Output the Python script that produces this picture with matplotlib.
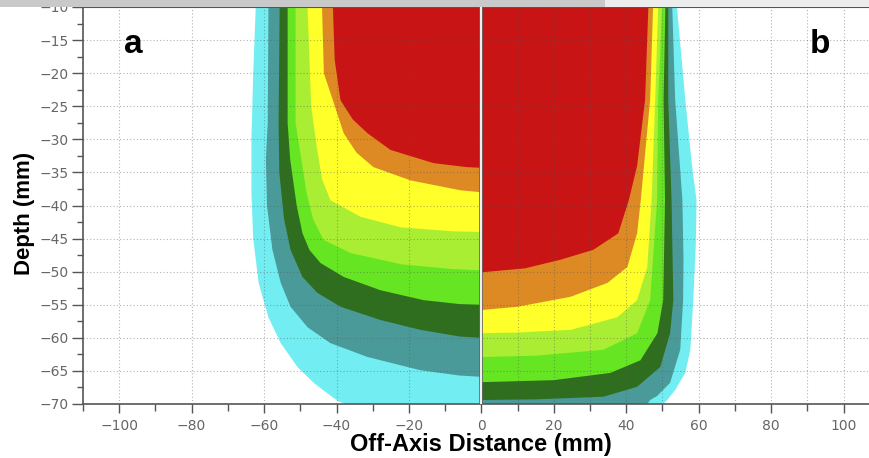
import matplotlib
matplotlib.use('Agg')
import matplotlib.pyplot as plt
from matplotlib.patches import Rectangle
from matplotlib.ticker import MultipleLocator

plt.rcParams['font.family'] = ['Liberation Sans', 'DejaVu Sans']

# isodose boundaries: (off-axis distance mm, depth mm)
# panel a (left half, x <= 0), outermost level first
a_cyan = [(-62.3, -10), (-63.0, -20), (-63.5, -30), (-63.5, -38), (-63.0, -45), (-61.5, -51.7),
          (-58.8, -56.9), (-55.4, -60.8), (-50.8, -64.4), (-46.3, -66.8), (-42.5, -68.4),
          (-39.5, -69.6), (-37.5, -70), (0, -70)]
a_teal = [(-58.8, -10), (-59.0, -27.5), (-59.5, -33), (-59.2, -40), (-57.7, -46.7), (-55.4, -51.7),
          (-52.7, -55.3), (-48.0, -58.4), (-41.7, -60.8), (-31.4, -62.9), (-16.8, -64.9),
          (-6.0, -65.7), (0, -65.9)]
a_dkgreen = [(-55.7, -10), (-56.0, -27.5), (-55.8, -35), (-54.5, -42), (-52.7, -46.7), (-49.4, -50.8),
             (-45.3, -53.2), (-38.9, -55.3), (-27.9, -57.3), (-16.8, -58.8), (-6.0, -59.8), (0, -60)]
a_green = [(-53.5, -10), (-53.5, -27.5), (-52.8, -33), (-51.0, -40), (-49.4, -44.2), (-47.5, -46.7),
           (-44.4, -48.7), (-38.0, -50.8), (-27.9, -52.8), (-16.0, -54.3), (-6.0, -54.9), (0, -55)]
a_lgreen = [(-51.3, -10), (-51.3, -27.5), (-50.0, -32), (-48.3, -38), (-46.5, -42), (-43.6, -45.2),
            (-36.0, -47.2), (-22.0, -48.9), (-8.0, -49.6), (0, -49.8)]
a_yellow = [(-48.0, -10), (-47.0, -25), (-45.5, -31), (-44.0, -36), (-41.7, -39.2), (-33.4, -41.7),
            (-22.3, -43.3), (-8.0, -43.9), (0, -44)]
a_orange = [(-44.0, -10), (-43.5, -20), (-41.0, -24.1), (-38.0, -29.1), (-34.5, -32), (-29.8, -34.2),
            (-19.6, -36.2), (-5.8, -37.7), (0, -38)]
a_red = [(-41.0, -10), (-40.5, -18), (-38.9, -24.1), (-35.5, -27), (-31.4, -29.1), (-25.1, -31.6),
         (-13.2, -33.6), (-4.0, -34.2), (0, -34.3)]

# panel b (right half, x >= 0)
b_cyan = [(54.0, -10), (56.3, -24), (58.2, -34.2), (59.4, -39.2), (59.2, -46), (58.5, -54.3),
          (57.7, -61.8), (56.3, -65.3), (53.5, -67.9), (51.3, -69.4), (50.2, -70), (0, -70)]
b_teal = [(52.7, -10), (53.5, -24), (55.5, -39.2), (55.8, -48), (55.7, -54.3), (54.9, -61.8),
          (52.1, -66.8), (48.5, -68.8), (46.6, -69.4), (45.8, -70), (0, -70)]
b_dkgreen = [(51.6, -10), (51.6, -24), (52.5, -39.2), (53.0, -54.3), (52.1, -59.3), (49.4, -64.4),
             (43.0, -67.4), (33.7, -68.9), (15.0, -69.3), (0, -69.4)]
b_green = [(50.8, -10), (50.3, -24), (50.7, -39.2), (50.2, -54.3), (48.6, -59.3), (43.9, -63.4),
           (35.6, -65.3), (19.9, -66.4), (0, -66.7)]
b_lgreen = [(49.9, -10), (48.8, -24), (48.5, -39.2), (46.6, -54.3), (43.0, -59.3), (33.7, -61.8),
            (15.0, -62.7), (0, -62.9)]
b_yellow = [(48.8, -10), (48.0, -24), (47.0, -39.2), (45.8, -49.3), (43.0, -54.3), (37.5, -56.9),
            (24.6, -58.8), (10.0, -59.2), (0, -59.3)]
b_orange = [(47.4, -10), (46.6, -24), (44.0, -39.2), (43.0, -44.2), (40.3, -49.3), (34.8, -51.7),
            (24.6, -53.8), (10.0, -55.3), (0, -55.8)]
b_red = [(46.1, -10), (45.2, -24), (43.0, -34), (40.7, -39.2), (37.8, -44.2), (30.9, -46.7),
         (21.8, -48.2), (12.0, -49.5), (0, -50.1)]

level_colors = ['#72eef2', '#4b9a9a', '#2f6e1f', '#66e622', '#aaee33', '#ffff2a', '#dd8a24', '#c81414']
panel_a = [a_cyan, a_teal, a_dkgreen, a_green, a_lgreen, a_yellow, a_orange, a_red]
panel_b = [b_cyan, b_teal, b_dkgreen, b_green, b_lgreen, b_yellow, b_orange, b_red]

fig = plt.figure(figsize=(8.7, 4.58), dpi=100)
ax = fig.add_axes([83 / 870, 54 / 458, 787 / 870, 397 / 458])


def fill_level(pts, color):
    xs = [0] + [p[0] for p in pts]
    ds = [-10] + [p[1] for p in pts]
    ax.fill(xs, ds, color=color, lw=0, zorder=1)


for pts, c in zip(panel_a, level_colors):
    fill_level(pts, c)
for pts, c in zip(panel_b, level_colors):
    fill_level(pts, c)

ax.set_xlim(-110, 107.3)
ax.set_ylim(-70, -10)

# dotted grid, coarser on the left plot than on the right one
grid_kw = dict(colors='#555555', linestyles=(0, (1, 2)), lw=0.8, alpha=0.45, zorder=2)
ax.vlines([-100, -80, -60, -40, -20], -70, -10, **grid_kw)
ax.vlines([10, 20, 30, 40, 50, 60, 70, 80, 90, 100], -70, -10, **grid_kw)
ax.hlines([-65, -60, -55, -50, -45, -40, -35, -30, -25, -20, -15], -110, 107.3, **grid_kw)

# seam between the two halves
ax.axvline(0, color='#666666', lw=2.6, zorder=3)
ax.axvline(0, color='white', lw=1.3, zorder=4)

ax.xaxis.set_major_locator(MultipleLocator(20))
ax.xaxis.set_minor_locator(MultipleLocator(10))
ax.yaxis.set_major_locator(MultipleLocator(5))
ax.yaxis.set_minor_locator(MultipleLocator(2.5))
ax.tick_params(axis='x', which='major', direction='out', length=6.5, width=1, color='#555555',
               labelcolor='#666666', labelsize=10, pad=4)
ax.tick_params(axis='x', which='minor', direction='out', length=5, width=1, color='#555555')
ax.tick_params(axis='y', which='major', direction='out', length=8, width=1, color='#555555',
               labelcolor='#666666', labelsize=10, pad=2)
ax.tick_params(axis='y', which='minor', direction='out', length=4, width=1, color='#555555')
for lab in ax.get_xticklabels() + ax.get_yticklabels():
    lab.set_family('DejaVu Sans')

for s in ['left', 'bottom']:
    ax.spines[s].set_color('#555555')
    ax.spines[s].set_linewidth(1.2)
ax.spines['right'].set_visible(False)
ax.spines['top'].set_color('#555555')

ax.text(-96, -17, 'a', fontsize=24, fontweight='bold', ha='center', va='baseline', zorder=5)
ax.text(93.5, -17, 'b', fontsize=24, fontweight='bold', ha='center', va='baseline', zorder=5)

fig.text(481 / 870, 7 / 458, 'Off-Axis Distance (mm)', fontsize=17, fontweight='bold',
         ha='center', va='baseline')
fig.text(25 / 870, 1 - 213 / 458, 'Depth (mm)', fontsize=16, fontweight='bold',
         rotation=90, ha='center', va='center')

# grey strip across the top of the screenshot
fig.add_artist(Rectangle((0, 1 - 7 / 458), 605 / 870, 7 / 458, transform=fig.transFigure,
                         color='#c9c9c9', lw=0, zorder=10))
fig.add_artist(Rectangle((605 / 870, 1 - 7 / 458), 265 / 870, 7 / 458, transform=fig.transFigure,
                         color='#ececec', lw=0, zorder=10))

fig.savefig('out.png', dpi=100)
